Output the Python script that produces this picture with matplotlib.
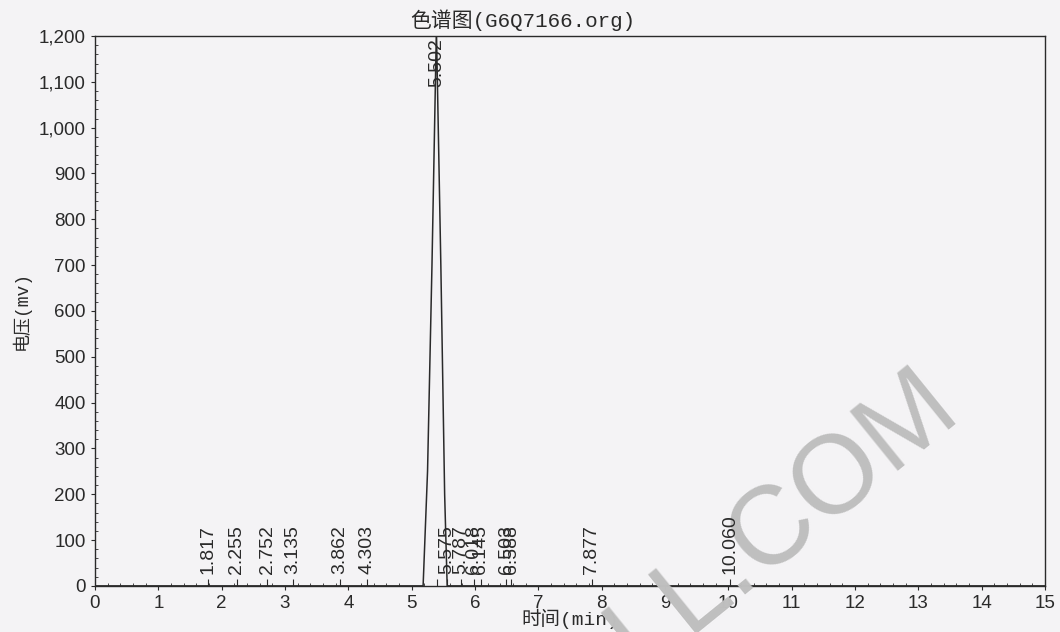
import numpy as np
import matplotlib
matplotlib.use("Agg")
import matplotlib.pyplot as plt
from matplotlib.ticker import AutoMinorLocator, FuncFormatter

#---- data ----
# trace (min, mV): flat baseline with one big peak
trace_t = [0.0, 5.18, 5.25, 5.32, 5.39, 5.46, 5.52, 5.56, 15.0]
trace_mv = [0, 0, 250, 700, 1215, 700, 200, 0, 0]

# peak labels (retention times)
peak_labels = ["1.817", "2.255", "2.752", "3.135", "3.862", "4.303",
               "5.502", "5.575", "5.787", "6.018", "6.145",
               "6.503", "6.588", "7.877", "10.060"]
peak_x = [1.78, 2.24, 2.72, 3.12, 3.87, 4.30,
          5.40, 5.56, 5.78, 5.98, 6.09,
          6.49, 6.57, 7.84, 10.03]
peak_y = [25, 25, 25, 25, 25, 25,
          1195, 25, 25, 25, 25,
          25, 25, 25, 25]

paper = "#f4f3f5"
ink = "#2a2a2a"

fig = plt.figure(figsize=(10.6, 6.32), dpi=100, facecolor=paper)
ax = fig.add_axes([0.0896, 0.073, 0.8964, 0.870])
ax.set_facecolor(paper)

ax.plot(trace_t, trace_mv, color=ink, lw=1.1, clip_on=True)

# little event marks on the baseline
ax.vlines(peak_x, 0, 14, color=ink, lw=0.8)

for lab, x, y in zip(peak_labels, peak_x, peak_y):
    va = "top" if y > 600 else "bottom"
    ax.text(x, y, lab, rotation=90, ha="center", va=va, zorder=4,
            fontsize=14, family="Liberation Sans", color=ink)

ax.set_xlim(0, 15)
ax.set_ylim(0, 1200)
ax.set_xticks(range(0, 16))
ax.set_yticks(range(0, 1201, 100))
ax.yaxis.set_major_formatter(FuncFormatter(lambda v, p: f"{int(v):,}"))
ax.xaxis.set_minor_locator(AutoMinorLocator(5))
ax.yaxis.set_minor_locator(AutoMinorLocator(5))
ax.tick_params(which="major", length=3, width=0.8, color=ink,
               labelsize=13.5, labelcolor=ink)
ax.tick_params(which="minor", direction="in", length=2, width=0.6, color=ink)
for lbl in ax.get_xticklabels() + ax.get_yticklabels():
    lbl.set_family("Liberation Sans")
for sp in ax.spines.values():
    sp.set_color(ink)
    sp.set_linewidth(1.0)

cjk = ["Liberation Mono", "Noto Sans CJK SC"]
fig.text(523 / 1060, 1 - 20 / 632, "色谱图(G6Q7166.org)", family=cjk,
         fontsize=15, color=ink, ha="center", va="center")
ax.set_xlabel("时间(min)", family=cjk, fontsize=14, color=ink, labelpad=-2)
ax.set_ylabel("电压(mv)", family=cjk, fontsize=13, color=ink, labelpad=6)

# scan watermark (over the frame, under the peak labels)
ax.text(962 / 1060, 1 - 412 / 632, "LL.COM", transform=fig.transFigure,
        rotation=39, rotation_mode="anchor", ha="right", va="baseline",
        fontsize=80, family="Liberation Sans", color="#bfbfbf",
        zorder=3, clip_on=False)

fig.savefig("out.png", dpi=100, facecolor=paper)
